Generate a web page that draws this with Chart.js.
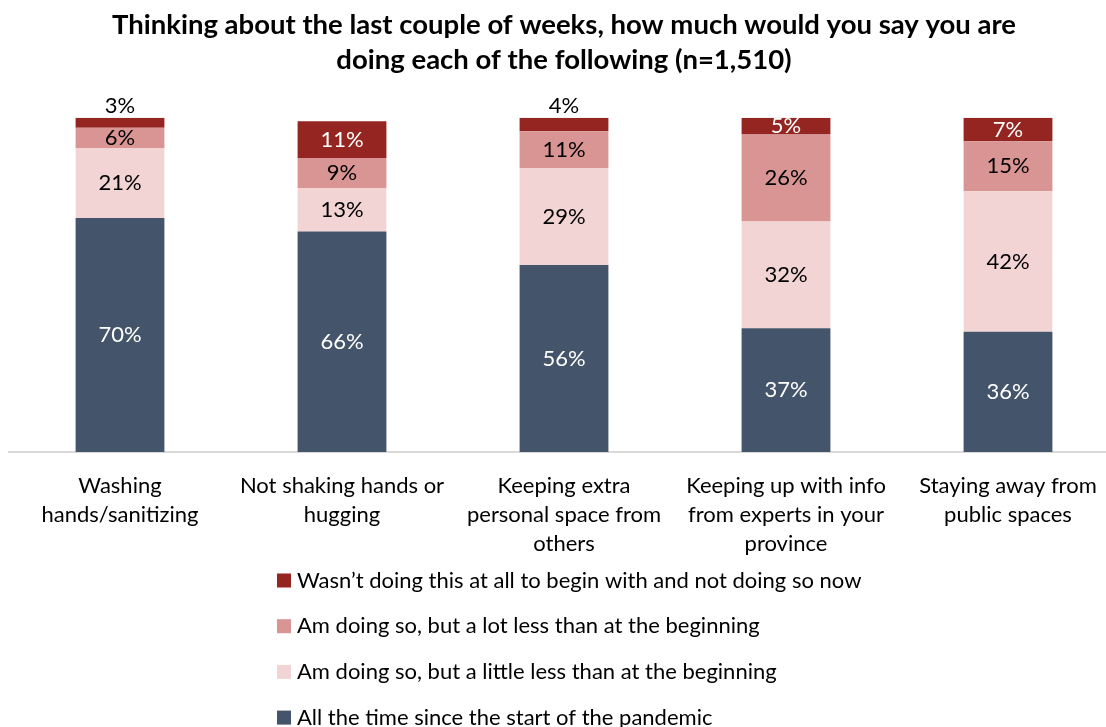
<!DOCTYPE html>
<html>
<head>
<meta charset="utf-8">
<title>Pandemic behaviours</title>
<script src="https://cdn.jsdelivr.net/npm/chart.js@4.4.1/dist/chart.umd.min.js"></script>
<style>
  html, body { margin: 0; padding: 0; background: #fff; overflow: hidden; }
  #wrap { width: 1122px; height: 727px; }
</style>
</head>
<body>
<div id="wrap"><canvas id="chart" width="1122" height="727"></canvas></div>
<script>
const categories = [
  ['Washing', 'hands/sanitizing'],
  ['Not shaking hands or', 'hugging'],
  ['Keeping extra', 'personal space from', 'others'],
  ['Keeping up with info', 'from experts in your', 'province'],
  ['Staying away from', 'public spaces']
];

const allTheTime = [70, 66, 56, 37, 36];
const littleLess = [21, 13, 29, 32, 42];
const lotLess = [6, 9, 11, 26, 15];
const notAtAll = [3, 11, 4, 5, 7];

const seriesNames = [
  'All the time since the start of the pandemic',
  'Am doing so, but a little less than at the beginning',
  'Am doing so, but a lot less than at the beginning',
  'Wasn\u2019t doing this at all to begin with and not doing so now'
];

const FONT = 'Lato, "Open Sans", sans-serif';

// percent labels in the middle of each segment; tiny ones sit above the bar
const segmentLabels = {
  id: 'segmentLabels',
  afterDatasetsDraw(chart) {
    const ctx = chart.ctx;
    ctx.save();
    ctx.font = '22px ' + FONT;
    ctx.textAlign = 'center';
    ctx.textBaseline = 'middle';
    chart.data.datasets.forEach((ds, i) => {
      chart.getDatasetMeta(i).data.forEach((bar, j) => {
        const v = ds.data[j];
        let y = (bar.y + bar.base) / 2;
        ctx.fillStyle = ds.labelColor;
        if (v < 5) {
          y = bar.y - 12;
          ctx.fillStyle = '#000';
        }
        ctx.fillText(v + '%', bar.x, y);
      });
    });
    ctx.restore();
  }
};

// vertical legend under the axis labels, top series first
const stackLegend = {
  id: 'stackLegend',
  afterDraw(chart) {
    const ctx = chart.ctx;
    const x = 277, y0 = 580.5, step = 45.7, box = 14;
    ctx.save();
    ctx.font = '22px ' + FONT;
    ctx.textBaseline = 'middle';
    ctx.textAlign = 'left';
    const list = chart.data.datasets.slice().reverse();
    list.forEach((ds, k) => {
      const y = y0 + k * step;
      ctx.fillStyle = ds.backgroundColor;
      ctx.fillRect(x, y - box / 2, box, box);
      ctx.fillStyle = '#000';
      ctx.fillText(ds.label, x + 20, y);
    });
    ctx.restore();
  }
};

new Chart(document.getElementById('chart'), {
  type: 'bar',
  data: {
    labels: categories,
    datasets: [
      { label: seriesNames[0], data: allTheTime, backgroundColor: '#44546A', labelColor: '#fff' },
      { label: seriesNames[1], data: littleLess, backgroundColor: '#F2D4D5', labelColor: '#000' },
      { label: seriesNames[2], data: lotLess, backgroundColor: '#D99594', labelColor: '#000' },
      { label: seriesNames[3], data: notAtAll, backgroundColor: '#942520', labelColor: '#fff' }
    ]
  },
  options: {
    responsive: false,
    animation: false,
    devicePixelRatio: 1,
    layout: { padding: { left: 9, right: 3, top: 0, bottom: 170 } },
    datasets: {
      bar: { categoryPercentage: 1, barPercentage: 0.4 }
    },
    plugins: {
      legend: { display: false },
      tooltip: { enabled: false },
      title: {
        display: true,
        text: [
          'Thinking about the last couple of weeks, how much would you say you are',
          'doing each of the following (n=1,510)'
        ],
        color: '#000',
        font: { family: FONT, size: 27.5, weight: 'bold', lineHeight: 1.27 },
        padding: { top: 7.5, bottom: 40.5 }
      }
    },
    scales: {
      x: {
        stacked: true,
        grid: { display: false, drawTicks: false },
        border: { display: true, color: '#d9d9d9', width: 2 },
        ticks: {
          color: '#000',
          font: { family: FONT, size: 22, lineHeight: 1.3 },
          padding: 20,
          maxRotation: 0,
          autoSkip: false
        },
        afterFit(scale) { scale.height = 105; }
      },
      y: {
        stacked: true,
        display: false,
        min: 0,
        max: 100
      }
    }
  },
  plugins: [segmentLabels, stackLegend]
});
</script>
</body>
</html>
